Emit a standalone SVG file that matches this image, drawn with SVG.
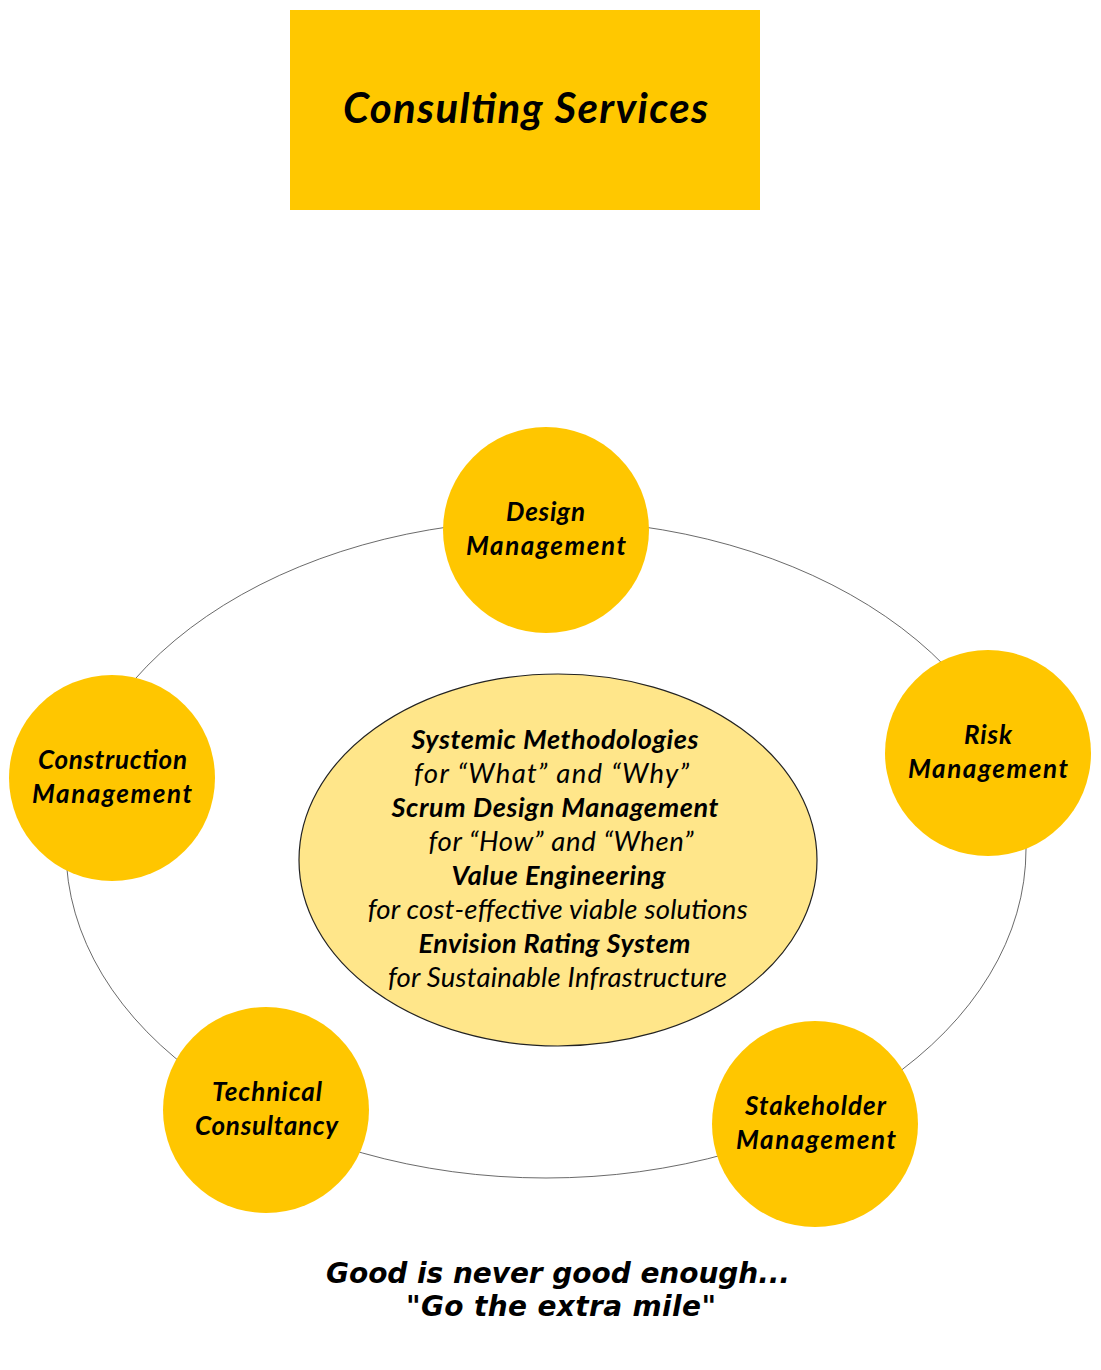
<svg xmlns="http://www.w3.org/2000/svg" width="1101" height="1370" viewBox="0 0 1101 1370">
<style>
.lbl{font-family:Lato,"Open Sans","Liberation Sans",sans-serif;font-style:italic;font-weight:bold;font-size:26px;fill:#000;text-anchor:middle}
.ctr{font-family:Lato,"Open Sans","Liberation Sans",sans-serif;font-style:italic;font-size:27.5px;fill:#000;text-anchor:middle}
.ctr .b{font-weight:bold;font-size:27px}
.node{fill:#FFC600}
.quote{font-family:"DejaVu Sans",Verdana,sans-serif;font-style:italic;font-weight:bold;font-size:28px;fill:#000;text-anchor:middle}
</style>
<rect width="1101" height="1370" fill="#fff"/>
<g id="title">
<rect x="290" y="10" width="470" height="200" fill="#FFC800"/>
<text x="525.5" y="123" class="lbl" style="font-size:42px" textLength="365" lengthAdjust="spacing">Consulting Services</text>
</g>
<g id="connectors">
<ellipse cx="546" cy="849" rx="480" ry="329" fill="none" stroke="#444" stroke-width="0.8"/>
</g>
<g id="center">
<ellipse cx="558" cy="860" rx="259" ry="186" fill="#FFE68A" stroke="#222" stroke-width="1.2"/>
<text class="ctr">
<tspan x="558.5" y="749" class="b" textLength="287" lengthAdjust="spacing">Systemic Methodologies</tspan>
<tspan x="555.5" y="783" textLength="275" lengthAdjust="spacing">for “What” and “Why”</tspan>
<tspan x="558.5" y="817" class="b" textLength="327" lengthAdjust="spacing">Scrum Design Management</tspan>
<tspan x="564.5" y="851" textLength="265" lengthAdjust="spacing">for “How” and “When”</tspan>
<tspan x="562" y="885" class="b" textLength="214" lengthAdjust="spacing">Value Engineering</tspan>
<tspan x="561" y="919" textLength="380" lengthAdjust="spacing">for cost-effective viable solutions</tspan>
<tspan x="558" y="953" class="b" textLength="272" lengthAdjust="spacing">Envision Rating System</tspan>
<tspan x="557.5" y="987" textLength="339" lengthAdjust="spacing">for Sustainable Infrastructure</tspan>
</text>
</g>
<g id="design">
<circle cx="546" cy="530" r="103" class="node"/>
<text class="lbl"><tspan x="545.5" y="521" textLength="79" lengthAdjust="spacing">Design</tspan><tspan x="546" y="555" textLength="160" lengthAdjust="spacing">Management</tspan></text>
</g>
<g id="risk">
<circle cx="988" cy="753" r="103" class="node"/>
<text class="lbl"><tspan x="988" y="744" textLength="48" lengthAdjust="spacing">Risk</tspan><tspan x="988" y="778" textLength="160" lengthAdjust="spacing">Management</tspan></text>
</g>
<g id="construction">
<circle cx="112" cy="778" r="103" class="node"/>
<text class="lbl"><tspan x="112.5" y="769" textLength="149" lengthAdjust="spacing">Construction</tspan><tspan x="112" y="803" textLength="160" lengthAdjust="spacing">Management</tspan></text>
</g>
<g id="technical">
<circle cx="266" cy="1110" r="103" class="node"/>
<text class="lbl"><tspan x="267" y="1101" textLength="110" lengthAdjust="spacing">Technical</tspan><tspan x="266.5" y="1135" textLength="143" lengthAdjust="spacing">Consultancy</tspan></text>
</g>
<g id="stakeholder">
<circle cx="815" cy="1124" r="103" class="node"/>
<text class="lbl"><tspan x="815.5" y="1115" textLength="141" lengthAdjust="spacing">Stakeholder</tspan><tspan x="816" y="1149" textLength="160" lengthAdjust="spacing">Management</tspan></text>
</g>
<g id="motto">
<text class="quote"><tspan x="558" y="1283" textLength="464" lengthAdjust="spacing">Good is never good enough...</tspan><tspan x="561" y="1316" textLength="310" lengthAdjust="spacing">"Go the extra mile"</tspan></text>
</g>
</svg>
